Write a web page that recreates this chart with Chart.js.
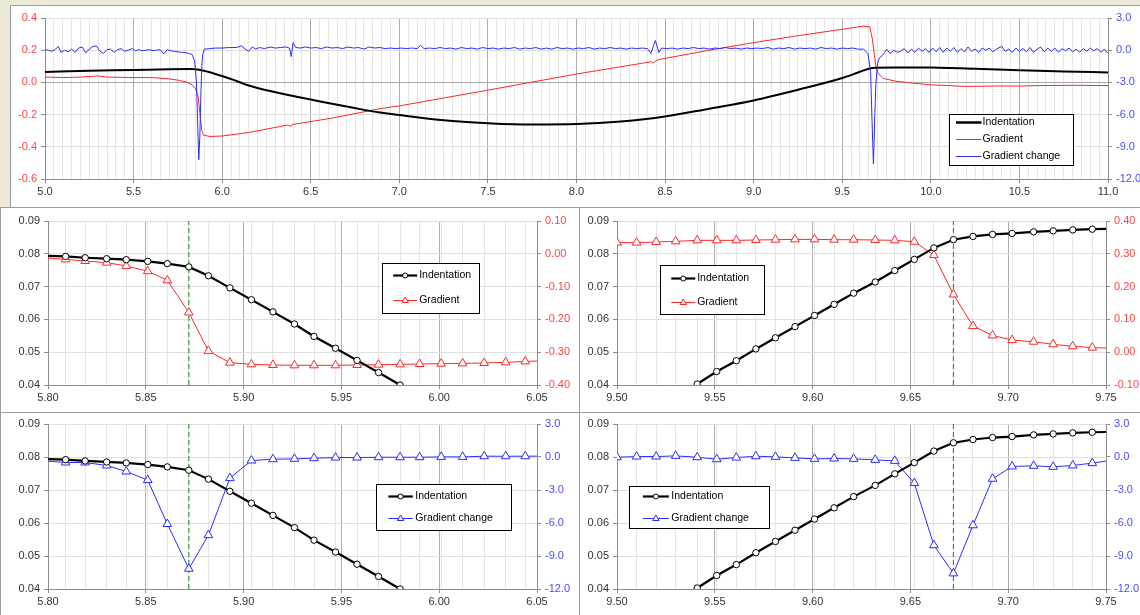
<!DOCTYPE html>
<html>
<head>
<title>Indentation / gradient</title>
<script src="https://cdn.jsdelivr.net/npm/chart.js"></script>
<style>
body { margin:0; background:#ECE9D8; width:1140px; height:615px; overflow:hidden; position:relative; }
.panel { position:absolute; background:#fff; box-sizing:border-box; border:1px solid #9c9c9c; }
canvas { display:block; }
</style>
</head>
<body>
<div class="panel" style="left:10px;top:5px;width:1131px;height:203px;border-right:none"><canvas id="cTop" width="1130" height="201"></canvas></div>
<div class="panel" style="left:0;top:207px;width:580px;height:206px"><canvas id="cML" width="578" height="204"></canvas></div>
<div class="panel" style="left:579px;top:207px;width:562px;height:206px;border-right:none"><canvas id="cMR" width="561" height="204"></canvas></div>
<div class="panel" style="left:0;top:412px;width:580px;height:205px"><canvas id="cBL" width="578" height="202"></canvas></div>
<div class="panel" style="left:579px;top:412px;width:562px;height:205px;border-right:none"><canvas id="cBR" width="561" height="202"></canvas></div>

<script>
// ---- top chart: whole profile 5.0 .. 11.0 ----
const topInd = [[5.0,0.065],[5.25,0.072],[5.5,0.077],[5.7,0.082],[5.82,0.083],[5.87,0.079],[5.92,0.066],[5.97,0.049],
  [6.06,0.017],[6.15,-0.019],[6.25,-0.049],[6.38,-0.080],[6.5,-0.106],[6.62,-0.133],[6.74,-0.158],[6.89,-0.187],
  [7.0,-0.202],[7.25,-0.235],[7.5,-0.253],[7.75,-0.262],[8.0,-0.259],[8.25,-0.243],[8.5,-0.212],[8.75,-0.163],
  [9.0,-0.112],[9.25,-0.046],[9.5,0.027],[9.6,0.066],[9.67,0.090],[9.8,0.093],[10.0,0.092],[10.25,0.085],
  [10.5,0.075],[10.75,0.068],[11.0,0.062]];

const topGrad = [[5.0,0.033],[5.1,0.030],[5.2,0.033],[5.3,0.040],[5.35,0.033],[5.5,0.030],[5.6,0.030],[5.7,0.022],
  [5.76,0.012],[5.8,0.002],[5.83,-0.015],[5.85,-0.04],[5.865,-0.09],[5.875,-0.2],[5.885,-0.30],[5.895,-0.328],
  [5.93,-0.336],[6.0,-0.333],[6.15,-0.311],[6.37,-0.265],[6.385,-0.272],[6.40,-0.261],[6.62,-0.222],[6.89,-0.163],
  [7.0,-0.146],[7.5,-0.048],[8.0,0.052],[8.42,0.128],[8.43,0.120],[8.46,0.141],[8.75,0.200],[9.0,0.247],
  [9.25,0.290],[9.5,0.330],[9.62,0.350],[9.655,0.345],[9.67,0.27],[9.68,0.18],[9.69,0.10],[9.70,0.06],
  [9.73,0.025],[9.8,0.008],[9.9,-0.005],[10.0,-0.015],[10.2,-0.025],[10.4,-0.022],[10.5,-0.023],[10.6,-0.020],
  [10.8,-0.018],[11.0,-0.020]];

const topChg = [[5.00,0.05],[5.02,0.0],[5.04,-0.1],[5.06,0.1],[5.075,0.35],[5.09,-0.2],[5.11,0.0],[5.13,-0.15],
  [5.15,0.1],[5.17,-0.2],[5.19,0.2],[5.21,0.3],[5.23,-0.25],[5.25,0.1],[5.27,0.35],[5.29,0.4],[5.31,-0.1],
  [5.33,-0.3],[5.35,0.05],[5.37,0.1],[5.39,-0.2],[5.41,0.05],[5.43,0.15],[5.45,-0.1],[5.47,0.0],[5.49,0.15],
  [5.51,-0.05],[5.53,0.05],[5.55,-0.05],[5.57,0.0],[5.59,0.05],[5.61,-0.05],[5.63,0.0],[5.65,0.05],[5.67,-0.35],
  [5.69,0.05],[5.71,-0.05],[5.73,-0.1],[5.75,-0.15],[5.77,-0.2],[5.79,-0.2],[5.81,-0.3],[5.83,-0.4],[5.845,-1.0],
  [5.855,-3.0],[5.862,-7.0],[5.868,-10.2],[5.874,-8.0],[5.88,-4.0],[5.885,-1.5],[5.89,-0.4],[5.90,0.1],
  [5.93,0.15],[5.96,0.2],[6.00,0.2],[6.04,0.25],[6.08,0.25],[6.11,0.4],[6.13,0.1],[6.15,-0.1],[6.17,0.3],
  [6.19,0.1],[6.21,0.25],[6.24,0.15],[6.27,0.3],[6.30,0.2],[6.33,0.25],[6.36,0.3],[6.38,0.2],[6.39,-0.6],
  [6.40,0.7],[6.415,0.25],[6.44,0.2],[6.47,0.3],[6.50,0.2],[6.53,0.25],[6.56,0.15],[6.59,0.3],[6.62,0.2],
  [6.65,0.25],[6.68,0.15],[6.71,0.3],[6.74,0.2],[6.77,0.25],[6.80,0.1],[6.83,0.3],[6.86,0.2],[6.89,0.25],
  [6.92,0.15],[6.95,0.2],[6.98,0.15],[7.01,0.2],[7.04,0.15],[7.07,0.2],[7.10,0.15],[7.12,0.45],[7.14,0.15],
  [7.17,0.2],[7.20,0.15],[7.23,0.25],[7.26,0.15],[7.29,0.2],[7.32,0.1],[7.35,0.25],[7.38,0.15],[7.41,0.2],
  [7.44,0.1],[7.47,0.25],[7.50,0.15],[7.53,0.2],[7.56,0.1],[7.59,0.2],[7.62,0.15],[7.65,0.25],[7.68,0.1],
  [7.71,0.2],[7.74,0.15],[7.77,0.25],[7.80,0.1],[7.83,0.2],[7.86,0.1],[7.89,0.25],[7.92,0.15],[7.95,0.2],
  [7.98,0.1],[8.01,0.2],[8.04,0.15],[8.07,0.25],[8.10,0.1],[8.13,0.2],[8.16,0.15],[8.19,0.25],[8.22,0.15],
  [8.25,0.2],[8.28,0.1],[8.31,0.2],[8.34,0.15],[8.37,0.2],[8.40,0.15],[8.42,-0.3],[8.445,0.9],[8.465,-0.2],
  [8.48,0.2],[8.51,0.15],[8.54,0.2],[8.57,0.1],[8.60,0.2],[8.63,0.15],[8.66,0.25],[8.69,0.15],[8.72,0.2],
  [8.75,0.1],[8.78,0.2],[8.81,0.15],[8.84,0.25],[8.87,0.15],[8.90,0.2],[8.93,0.1],[8.96,0.2],[8.99,0.15],
  [9.02,0.2],[9.05,0.15],[9.08,0.25],[9.11,0.1],[9.14,0.2],[9.17,0.15],[9.20,0.25],[9.23,0.1],[9.26,0.2],
  [9.29,0.15],[9.32,0.2],[9.35,0.1],[9.38,0.25],[9.41,0.15],[9.44,0.2],[9.47,0.1],[9.50,0.2],[9.53,0.15],
  [9.56,0.2],[9.59,0.1],[9.62,0.1],[9.645,-0.3],[9.66,-2.0],[9.668,-6.5],[9.676,-10.6],[9.684,-6.0],[9.69,-3.0],
  [9.70,-1.2],[9.71,-0.7],[9.725,-0.5],[9.74,-0.2],[9.75,0.1],[9.77,-0.3],[9.79,0.0],[9.81,-0.2],[9.83,-0.1],
  [9.85,0.15],[9.87,-0.25],[9.89,0.1],[9.91,-0.2],[9.93,0.2],[9.95,-0.1],[9.97,0.15],[9.99,-0.2],[10.01,0.2],
  [10.03,-0.15],[10.05,0.25],[10.07,-0.2],[10.09,0.2],[10.11,-0.1],[10.13,0.25],[10.15,-0.2],[10.17,0.15],
  [10.19,-0.15],[10.21,0.3],[10.23,-0.1],[10.25,0.1],[10.27,-0.2],[10.29,0.2],[10.31,0.0],[10.33,0.2],
  [10.35,-0.15],[10.37,0.1],[10.40,0.35],[10.42,-0.1],[10.44,0.1],[10.46,-0.2],[10.48,0.2],[10.50,-0.1],
  [10.52,0.15],[10.54,-0.15],[10.56,0.25],[10.58,-0.2],[10.60,0.1],[10.62,0.3],[10.64,-0.15],[10.66,0.2],
  [10.68,-0.1],[10.70,0.2],[10.72,-0.2],[10.74,0.15],[10.76,-0.05],[10.78,0.2],[10.80,-0.15],[10.82,0.1],
  [10.84,-0.2],[10.86,0.15],[10.88,-0.1],[10.90,0.2],[10.92,-0.05],[10.94,0.15],[10.96,-0.2],[10.98,0.1],[11.00,-0.3]];

// ---- zoom around first edge (5.80 .. 6.05) ----
const zoomLX    = [5.798,5.809,5.819,5.830,5.840,5.851,5.861,5.872,5.882,5.893,5.904,5.915,5.926,5.936,5.947,5.958,5.969,5.980,5.990,6.001,6.012,6.023,6.034,6.044,6.055];
const zoomLInd  = [0.0794,0.0792,0.0788,0.0785,0.0782,0.0777,0.0770,0.0760,0.0733,0.0696,0.0660,0.0623,0.0586,0.0548,0.0512,0.0475,0.0438,0.0400,null,null,null,null,null,null,null];
const zoomLGrad = [-0.012,-0.017,-0.022,-0.027,-0.037,-0.053,-0.081,-0.179,-0.296,-0.332,-0.337,-0.339,-0.340,-0.340,-0.340,-0.339,-0.338,-0.337,-0.336,-0.335,-0.334,-0.333,-0.331,-0.328,-0.326];
const zoomLChg  = [-0.35,-0.50,-0.50,-0.77,-1.32,-2.10,-6.09,-10.16,-7.11,-1.92,-0.32,-0.20,-0.17,-0.11,-0.05,-0.05,-0.02,-0.02,-0.02,0.01,0.01,0.07,0.07,0.07,0.08];
const markL = 5.872;

// ---- zoom around second edge (9.50 .. 9.75) ----
const zoomRX    = [9.500,9.510,9.520,9.530,9.541,9.551,9.561,9.571,9.581,9.591,9.601,9.611,9.621,9.632,9.642,9.652,9.662,9.672,9.682,9.692,9.702,9.713,9.723,9.733,9.743,9.753];
const zoomRInd  = [null,null,null,null,0.0403,0.0441,0.0474,0.0510,0.0544,0.0578,0.0612,0.0646,0.0680,0.0714,0.0749,0.0783,0.0818,0.0843,0.0853,0.0859,0.0862,0.0867,0.0870,0.0873,0.0875,0.0876];
const zoomRGrad = [0.334,0.334,0.336,0.338,0.341,0.341,0.341,0.342,0.343,0.344,0.344,0.343,0.343,0.342,0.341,0.337,0.296,0.176,0.080,0.051,0.037,0.032,0.024,0.018,0.014,0.012];
const zoomRChg  = [-0.02,0.04,0.04,0.10,-0.02,-0.20,-0.05,0.07,0.01,-0.08,-0.17,-0.14,-0.17,-0.26,-0.35,-2.37,-8.02,-10.58,-6.21,-1.98,-0.86,-0.80,-0.89,-0.77,-0.56,-0.29];
const markR = 9.672;

const BLACK = '#000000', RED = '#FF2626', BLUE = '#2B2BFF', GREEN = '#2E9E2E';
const RED_TXT = '#FF4545', BLUE_TXT = '#4A4AFF', GREY_TXT = '#333333';

Chart.defaults.font.family = '"Liberation Sans", Arial, sans-serif';
Chart.defaults.font.size = 11;
Chart.defaults.color = GREY_TXT;

const pairs = arr => arr.map(p => ({x: p[0], y: p[1]}));
const zip = (xs, ys) => xs.map((x, i) => ({x: x, y: ys[i]})).filter(p => p.y !== null);

// legend drawn in a box inside the plot (positions as fractions of the plot area)
const boxLegend = {
  id: 'boxLegend',
  afterDatasetsDraw(chart, args, o) {
    if (!o.items) return;
    const a = chart.chartArea, ctx = chart.ctx;
    const fx = f => a.left + f * (a.right - a.left);
    const fy = f => a.top + f * (a.bottom - a.top);
    ctx.save();
    const x0 = Math.round(fx(o.box[0])) + 0.5, y0 = Math.round(fy(o.box[1])) + 0.5;
    const x1 = Math.round(fx(o.box[2])) + 0.5, y1 = Math.round(fy(o.box[3])) + 0.5;
    ctx.fillStyle = '#fff';
    ctx.fillRect(x0, y0, x1 - x0, y1 - y0);
    ctx.strokeStyle = '#000'; ctx.lineWidth = 1;
    ctx.strokeRect(x0, y0, x1 - x0, y1 - y0);
    ctx.font = '10.5px "Liberation Sans", Arial, sans-serif';
    ctx.textBaseline = 'middle';
    o.items.forEach(it => {
      const y = Math.round(fy(it.y)) + 0.5;
      const sx0 = fx(o.sample[0]), sx1 = fx(o.sample[1]), mx = (sx0 + sx1) / 2;
      ctx.strokeStyle = it.color; ctx.lineWidth = it.width;
      ctx.beginPath(); ctx.moveTo(sx0, y); ctx.lineTo(sx1, y); ctx.stroke();
      ctx.lineWidth = 1; ctx.fillStyle = '#fff';
      if (it.marker === 'circle') {
        ctx.beginPath(); ctx.arc(mx, y, 2.5, 0, Math.PI * 2); ctx.fill(); ctx.stroke();
      } else if (it.marker === 'triangle') {
        ctx.beginPath(); ctx.moveTo(mx, y - 3.5); ctx.lineTo(mx + 3.2, y + 2); ctx.lineTo(mx - 3.2, y + 2);
        ctx.closePath(); ctx.fill(); ctx.stroke();
      }
      ctx.fillStyle = '#000';
      ctx.fillText(it.label, fx(o.textX), y);
    });
    ctx.restore();
  }
};

const near = (v, step) => Math.abs(v / step - Math.round(v / step)) < 1e-6;

function xAxis(min, max, majorStep, minorTicks, dec, h) {
  return {
    type: 'linear', min: min, max: max,
    afterBuildTicks: s => { s.ticks = minorTicks.map(v => ({value: v})); },
    afterFit: s => { s.height = h; },
    ticks: { autoSkip: false, maxRotation: 0, padding: 2, color: GREY_TXT,
             callback: v => near(v, majorStep) ? v.toFixed(dec) : '' },
    grid: { color: c => near(c.tick.value, majorStep) ? '#ADADAD' : '#E6E6E6',
            tickColor: c => near(c.tick.value, majorStep) ? '#8C8C8C' : 'rgba(0,0,0,0)',
            tickLength: 4 },
    border: { display: true, color: '#8C8C8C' }
  };
}

function yAxis(pos, min, max, step, dec, color, w, grid, zeroDark) {
  return {
    type: 'linear', position: pos, min: min, max: max,
    afterFit: s => { s.width = w; },
    ticks: { stepSize: step, padding: 4, color: color, callback: v => (+v).toFixed(dec) },
    grid: grid ? { color: c => (zeroDark && Math.abs(c.tick.value) < 1e-9) ? '#A6A6A6' : '#DEDEDE',
                   tickColor: '#8C8C8C', tickLength: 4 }
               : { drawOnChartArea: false, color: '#8C8C8C', tickLength: 4 },
    border: { display: true, color: '#8C8C8C' }
  };
}

const baseOpts = {
  responsive: false, animation: false, devicePixelRatio: 1, events: [],
  plugins: { legend: { display: false }, tooltip: { enabled: false } }
};

// ---- top chart ----
const topTicks = [];
for (let i = 0; i <= 120; i++) topTicks.push(Math.round((5 + i * 0.05) * 100) / 100);

new Chart(document.getElementById('cTop'), {
  type: 'line',
  data: { datasets: [
    { data: pairs(topInd), yAxisID: 'y', borderColor: BLACK, borderWidth: 2, pointRadius: 0, order: 1,
      cubicInterpolationMode: 'monotone' },
    { data: pairs(topGrad), yAxisID: 'y', borderColor: RED, borderWidth: 1, pointRadius: 0, order: 2 },
    { data: pairs(topChg), yAxisID: 'y2', borderColor: BLUE, borderWidth: 1, pointRadius: 0, order: 0 }
  ]},
  options: Object.assign({}, baseOpts, {
    layout: { padding: { top: 12, left: 0, right: 0, bottom: 0 } },
    scales: {
      x: xAxis(5, 11, 0.5, topTicks, 1, 28),
      y: yAxis('left', -0.6, 0.4, 0.2, 1, RED_TXT, 34, true, true),
      y2: yAxis('right', -12, 3, 3, 1, BLUE_TXT, 33, false)
    },
    plugins: Object.assign({}, baseOpts.plugins, {
      boxLegend: { box: [0.850, 0.596, 0.967, 0.913], sample: [0.857, 0.881], textX: 0.882, items: [
        { label: 'Indentation', color: BLACK, width: 2.5, y: 0.646 },
        { label: 'Gradient', color: RED, width: 1, y: 0.752 },
        { label: 'Gradient change', color: BLUE, width: 1, y: 0.857 } ] }
    })
  }),
  plugins: [boxLegend]
});

// ---- zoom charts ----
function zoomChart(id, xs, ind, second, mark, range, secondAxis, legend, h, padTop) {
  const inR = c => c.raw && c.raw.x >= range[0] - 1e-9 && c.raw.x <= range[1] + 1e-9;
  const majors = [];
  for (let i = 0; i <= 5; i++) majors.push(Math.round((range[0] + i * 0.05) * 100) / 100);
  const ticks = xs.filter(v => v > range[0] && v < range[1]).concat(majors).sort((a, b) => a - b);
  const isGrad = secondAxis.kind === 'grad';
  const col = isGrad ? RED : BLUE;
  new Chart(document.getElementById(id), {
    type: 'line',
    data: { datasets: [
      { data: zip(xs, ind), yAxisID: 'y', borderColor: BLACK, borderWidth: 2.2,
        pointStyle: 'circle', pointRadius: c => inR(c) ? 3.2 : 0, pointBorderWidth: 1,
        pointBackgroundColor: '#fff', pointBorderColor: BLACK },
      { data: zip(xs, second), yAxisID: 'y2', borderColor: col, borderWidth: 1,
        pointStyle: 'triangle', pointRadius: c => inR(c) ? 5 : 0, pointBorderWidth: 1,
        pointBackgroundColor: '#fff', pointBorderColor: col },
      { data: [{x: mark, y: 0.04}, {x: mark, y: 0.09}], yAxisID: 'y', borderColor: GREEN,
        borderWidth: 1.2, borderDash: [5, 3], pointRadius: 0 }
    ]},
    options: Object.assign({}, baseOpts, {
      layout: { padding: { top: padTop, left: 0, right: 0, bottom: 0 } },
      scales: {
        x: xAxis(range[0], range[1], 0.05, ticks, 2, h),
        y: yAxis('left', 0.04, 0.09, 0.01, 2, GREY_TXT, legend.lw, true, false),
        y2: yAxis('right', secondAxis.min, secondAxis.max, secondAxis.step, secondAxis.dec,
                  isGrad ? RED_TXT : BLUE_TXT, legend.rw, false)
      },
      plugins: Object.assign({}, baseOpts.plugins, {
        boxLegend: { box: legend.box, sample: legend.sample, textX: legend.textX, items: [
          { label: 'Indentation', color: BLACK, width: 2.2, marker: 'circle', y: legend.y[0] },
          { label: isGrad ? 'Gradient' : 'Gradient change', color: col, width: 1, marker: 'triangle', y: legend.y[1] } ] }
      })
    }),
    plugins: [boxLegend]
  });
}

zoomChart('cML', zoomLX, zoomLInd, zoomLGrad, markL, [5.80, 6.05],
  { kind: 'grad', min: -0.4, max: 0.1, step: 0.1, dec: 2 },
  { lw: 47, rw: 42, box: [0.683, 0.254, 0.882, 0.564], sample: [0.706, 0.755], textX: 0.759, y: [0.331, 0.479] }, 27, 13);
zoomChart('cMR', zoomRX, zoomRInd, zoomRGrad, markR, [9.50, 9.75],
  { kind: 'grad', min: -0.1, max: 0.4, step: 0.1, dec: 2 },
  { lw: 37, rw: 35, box: [0.088, 0.270, 0.300, 0.568], sample: [0.111, 0.160], textX: 0.164, y: [0.347, 0.495] }, 27, 13);
zoomChart('cBL', zoomLX, zoomLInd, zoomLChg, markL, [5.80, 6.05],
  { kind: 'chg', min: -12, max: 3, step: 3, dec: 1 },
  { lw: 47, rw: 42, box: [0.671, 0.364, 0.947, 0.642], sample: [0.696, 0.746], textX: 0.751, y: [0.435, 0.569] }, 26, 11);
zoomChart('cBR', zoomRX, zoomRInd, zoomRChg, markR, [9.50, 9.75],
  { kind: 'chg', min: -12, max: 3, step: 3, dec: 1 },
  { lw: 37, rw: 35, box: [0.025, 0.374, 0.311, 0.630], sample: [0.053, 0.106], textX: 0.111, y: [0.435, 0.569] }, 26, 11);
</script>
</body>
</html>
